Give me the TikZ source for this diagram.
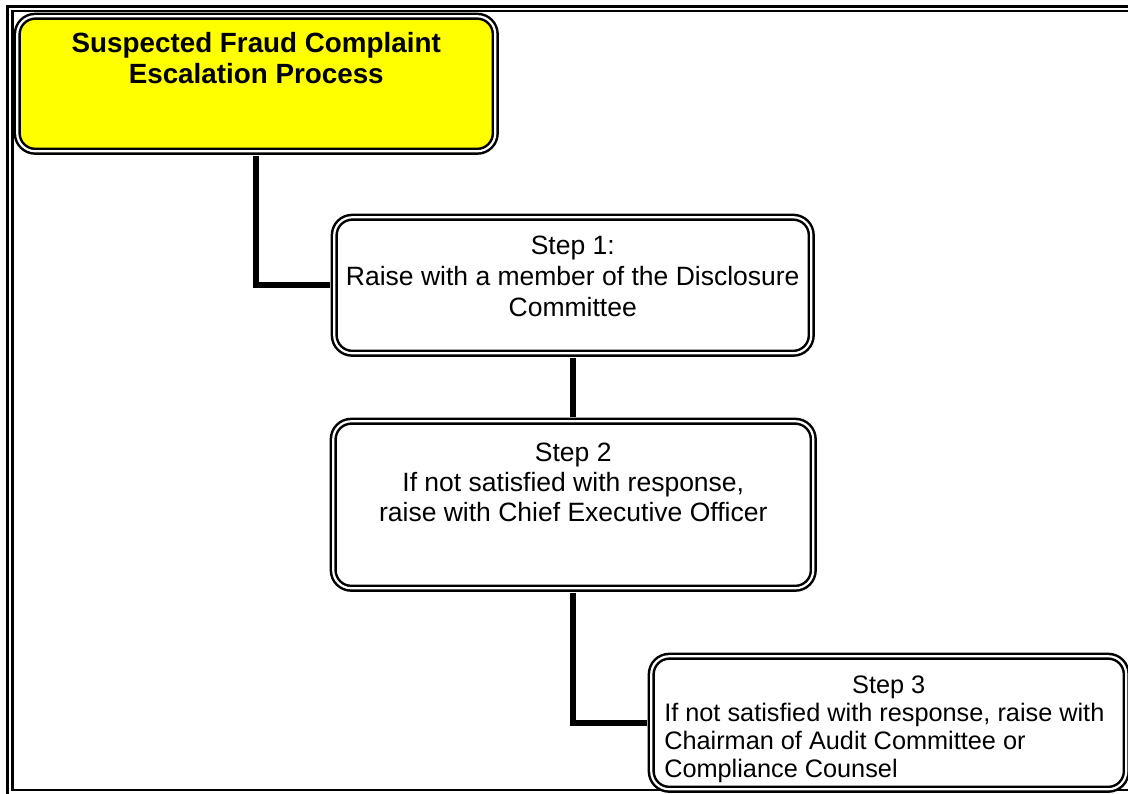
\documentclass[tikz,border=0pt]{standalone}
\usepackage{fontspec}
\setmainfont{Liberation Sans}
\usetikzlibrary{positioning}
\definecolor{canary}{RGB}{255,255,0}
\definecolor{ink}{RGB}{0,0,0}
\tikzset{
  frame/.style={draw=ink,double=white,line width=1.25pt,double distance=1.1pt},
  stepbox/.style={frame,fill=#1,rounded corners=9pt,inner sep=0pt,anchor=north west},
  stepbox/.default=white,
  flow/.style={draw=ink,line width=3pt,shorten <=1.7pt,shorten >=1.7pt},
}
\newcommand{\stepfont}[1]{\fontsize{#1}{15.5pt}\selectfont}

\begin{document}
\begin{tikzpicture}[x=0.5pt,y=-0.5pt]
  \path[use as bounding box,fill=white] (0,0) rectangle (1128,793);
  % page frame, cut by the right and bottom edge
  \draw[frame] (10,8.7) rectangle (1140,792.5);
  % boxes
  \node[stepbox=canary,text height=18pt,text depth=49.5pt] (title) at (16,15)
    {\parbox[t]{239pt}{\centering\stepfont{13.9pt}\bfseries Suspected Fraud Complaint\\ Escalation Process}};
  \node[stepbox,text height=18.5pt,text depth=49.5pt] (s1) at (333,216)
    {\parbox[t]{238.5pt}{\centering\stepfont{13.25pt}Step 1:\\ Raise with a member of the Disclosure\\ Committee}};
  \node[stepbox,text height=20pt,text depth=63.5pt] (s2) at (332,420)
    {\parbox[t]{240pt}{\centering\fontsize{13.25pt}{15pt}\selectfont Step 2\\ If not satisfied with response,\\ raise with Chief Executive Officer}};
  \node[stepbox,text height=18.5pt,text depth=48pt] (s3) at (650,655)
    {\parbox[t]{237.5pt}{\fontsize{12.65pt}{14pt}\selectfont\centering Step 3\par
      \raggedright\leftskip=6.5pt If not satisfied with response, raise with\\ Chairman of Audit Committee or\\ Compliance Counsel}};
  % connectors
  \draw[flow] (title.south) |- (s1.west);
  \draw[flow] (s1.south) -- (s1.south |- s2.north);
  \draw[flow] (s2.south) |- (s3.west);
\end{tikzpicture}
\end{document}
